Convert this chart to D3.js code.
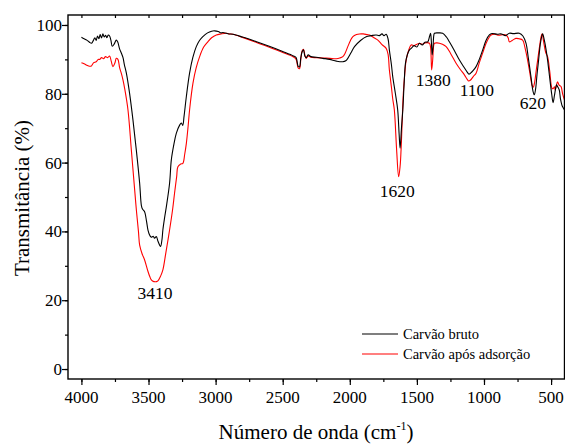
<!DOCTYPE html>
<html>
<head>
<meta charset="utf-8">
<script src="https://cdn.jsdelivr.net/npm/d3@7"></script>
</head>
<body style="margin:0">
<svg id="chart" width="565" height="444"></svg>
<script>
// Carvão bruto: [wavenumber (cm-1), transmittance (%)]
const brutoData = [
  [4000,96.4],[3980,96.0],[3960,95.6],[3940,95.0],[3925,94.7],[3910,95.6],[3900,96.3],[3890,95.5],
  [3880,96.8],[3870,96.0],[3860,97.2],[3850,96.2],[3840,97.4],[3830,96.5],[3820,97.0],[3810,96.3],
  [3800,97.1],[3790,96.8],[3780,95.5],[3770,93.8],[3755,94.5],[3740,95.6],[3730,95.1],[3715,93.0],
  [3702,91.8],[3690,90.5],[3680,88.5],[3665,86.0],[3641,80.1],[3616,72.4],[3591,63.7],[3566,54.0],
  [3553,47.5],[3545,46.5],[3530,45.8],[3515,43.0],[3504,40.4],[3490,38.8],[3479,38.3],[3465,38.6],
  [3455,38.0],[3442,38.5],[3430,37.2],[3417,36.0],[3410,35.6],[3400,37.5],[3393,40.4],[3380,44.0],
  [3367,47.2],[3343,54.0],[3330,60.8],[3310,65.5],[3293,68.5],[3268,70.9],[3255,71.5],[3245,70.8],
  [3235,73.5],[3218,79.2],[3194,86.0],[3170,90.5],[3144,93.7],[3120,95.5],[3095,96.6],[3060,97.7],
  [3030,98.2],[3008,98.3],[2980,98.1],[2960,97.7],[2946,97.8],[2900,97.4],[2871,97.3],[2800,96.5],
  [2700,95.2],[2600,93.8],[2500,92.3],[2420,91.0],[2400,90.5],[2385,88.0],[2375,87.8],[2365,90.5],
  [2355,92.2],[2345,92.8],[2335,91.0],[2325,90.5],[2310,91.3],[2290,90.8],[2250,90.6],[2200,90.3],
  [2150,90.0],[2100,89.5],[2052,89.3],[2030,89.6],[2015,90.3],[1990,92.0],[1965,93.7],[1920,95.5],
  [1878,96.6],[1840,96.9],[1804,97.1],[1780,96.9],[1760,97.4],[1745,96.9],[1729,97.3],[1715,96.0],
  [1705,92.7],[1690,88.5],[1680,85.0],[1660,80.0],[1643,75.3],[1632,68.0],[1625,64.2],[1615,70.0],
  [1605,75.3],[1595,83.0],[1585,88.9],[1570,91.5],[1556,92.7],[1540,93.3],[1520,94.0],[1500,93.6],
  [1481,94.7],[1460,94.2],[1440,95.0],[1419,95.1],[1405,96.8],[1398,97.6],[1392,95.0],[1386,91.3],
  [1380,93.5],[1374,97.0],[1369,97.6],[1340,97.7],[1308,97.6],[1280,96.5],[1258,95.1],[1220,92.5],
  [1183,89.8],[1150,87.8],[1125,86.3],[1112,85.7],[1100,86.0],[1080,86.8],[1059,87.9],[1035,90.0],
  [1010,92.7],[985,95.5],[960,97.1],[940,97.5],[900,97.3],[870,97.4],[840,96.9],[811,97.6],
  [780,97.5],[737,97.6],[710,96.8],[687,94.7],[670,90.5],[650,85.0],[635,80.8],[625,79.7],
  [615,81.5],[605,85.5],[593,89.8],[578,95.0],[563,97.4],[550,95.5],[538,93.0],[526,89.8],
  [510,84.5],[495,79.8],[485,77.4],[475,79.5],[465,81.8],[459,82.6],[450,82.0],[439,81.1],
  [430,78.5],[420,76.8],[414,76.2],[400,75.3]
];

// Carvão após adsorção
const adsorcaoData = [
  [4000,89.0],[3980,88.7],[3960,88.3],[3940,88.0],[3926,88.1],[3910,89.0],[3890,89.3],[3875,90.0],
  [3864,90.0],[3850,90.5],[3835,90.2],[3820,90.8],[3805,90.5],[3790,91.0],[3778,89.5],[3765,87.9],
  [3750,89.0],[3740,90.3],[3728,90.0],[3715,87.5],[3703,86.0],[3690,84.0],[3678,81.6],[3653,75.3],
  [3628,63.7],[3603,52.0],[3590,46.0],[3575,40.0],[3566,36.0],[3548,33.5],[3529,31.7],[3505,28.5],
  [3490,26.8],[3479,25.9],[3460,25.4],[3440,25.4],[3430,25.6],[3410,27.0],[3393,28.8],[3370,34.0],
  [3343,40.4],[3320,46.5],[3306,51.1],[3290,56.0],[3281,58.8],[3260,59.6],[3244,59.8],[3230,62.5],
  [3218,65.6],[3205,70.5],[3194,75.3],[3169,83.0],[3145,87.5],[3119,90.8],[3090,93.5],[3058,95.1],
  [3030,96.3],[2995,97.1],[2960,97.4],[2920,97.6],[2900,97.4],[2871,97.3],[2800,96.4],[2700,95.0],
  [2600,93.5],[2500,92.0],[2420,90.7],[2400,90.0],[2385,87.5],[2375,87.3],[2365,90.0],[2355,92.5],
  [2345,92.9],[2335,91.3],[2325,90.3],[2310,91.0],[2290,90.6],[2250,90.5],[2200,90.4],[2150,90.3],
  [2100,90.2],[2075,90.4],[2052,90.8],[2035,91.8],[2015,93.7],[1995,95.5],[1977,96.6],[1950,97.2],
  [1928,97.4],[1900,97.4],[1870,97.2],[1853,97.1],[1820,96.3],[1791,95.6],[1760,94.3],[1729,93.2],
  [1715,91.5],[1705,86.9],[1690,82.0],[1680,78.5],[1668,75.3],[1651,63.7],[1636,55.9],[1625,59.0],
  [1618,63.7],[1601,80.1],[1590,86.0],[1580,89.8],[1560,92.8],[1543,94.2],[1520,94.0],[1500,94.4],
  [1481,94.7],[1460,94.4],[1440,94.8],[1407,94.7],[1398,93.5],[1390,86.9],[1382,90.0],[1375,94.0],
  [1369,94.7],[1350,94.8],[1332,94.7],[1310,94.4],[1282,93.7],[1250,91.8],[1208,88.9],[1175,87.0],
  [1146,85.5],[1125,84.2],[1114,83.7],[1100,84.0],[1080,85.0],[1059,86.0],[1035,89.0],[1010,91.8],
  [985,94.6],[960,96.5],[947,97.1],[920,97.3],[890,97.0],[860,97.2],[836,97.1],[820,96.3],
  [811,95.1],[790,95.5],[762,96.1],[740,96.0],[712,95.6],[695,93.5],[675,89.8],[660,86.5],
  [650,84.0],[642,82.5],[633,81.9],[622,83.5],[610,87.0],[600,89.8],[585,94.0],[575,96.5],
  [567,97.4],[555,95.0],[540,92.0],[526,90.8],[510,86.5],[493,81.6],[485,81.5],[475,82.0],
  [469,81.1],[460,82.5],[452,83.5],[440,82.5],[426,82.1],[414,80.0],[400,78.2]
];

const seriesNames = ["Carvão bruto", "Carvão após adsorção"];
const seriesColors = ["#000000", "#ff0000"];

const xTicks = [4000, 3500, 3000, 2500, 2000, 1500, 1000, 500];
const yTicks = [0, 20, 40, 60, 80, 100];

// peak labels: text, wavenumber position, transmittance position
const peakLabels = [
  ["3410", 3452, 20.3],
  ["1620", 1646, 50.0],
  ["1380", 1378, 82.3],
  ["1100", 1053, 79.4],
  ["620", 636, 75.6]
];

const svg = d3.select("#chart")
const margin = {left: 68, top: 15, right: 0.5, bottom: 65}
const W = 565, H = 444

const x = d3.scaleLinear().domain([4100, 400]).range([margin.left, W - margin.right])
const y = d3.scaleLinear().domain([-2.9, 102.9]).range([H - margin.bottom, margin.top])

const minorX = d3.range(4000, 399, -250)
const minorY = d3.range(0, 101, 10)

// plain text helper, all chart text goes through here
function label(parent, str, px, py, size, anchor) {
  return parent.append("text")
    .attr("x", px).attr("y", py)
    .attr("font-family", "Liberation Serif")
    .attr("font-size", size)
    .attr("text-anchor", anchor || "start")
    .text(str)
}

// tick marks only, labels are drawn by hand below so no axis font attributes get in the way
function ticksOnly(axis, tx, ty) {
  svg.append("g")
    .attr("transform", `translate(${tx},${ty})`)
    .call(axis.tickFormat(""))
    .call(g => g.select(".domain").remove())
    .call(g => g.selectAll("text").remove())
}
ticksOnly(d3.axisBottom(x).tickValues(minorX).tickSize(3), 0, H - margin.bottom)
ticksOnly(d3.axisBottom(x).tickValues(xTicks).tickSize(6), 0, H - margin.bottom)
ticksOnly(d3.axisBottom(x).tickValues(minorX).tickSize(3), 0, margin.top)
ticksOnly(d3.axisLeft(y).tickValues(minorY).tickSize(3), margin.left, 0)
ticksOnly(d3.axisLeft(y).tickValues(yTicks).tickSize(6), margin.left, 0)
svg.selectAll(".tick line").attr("stroke", "#000").attr("stroke-width", 1.2)

const labels = svg.append("g")
xTicks.forEach(v => label(labels, String(v), x(v), 403, 17, "middle"))
yTicks.forEach(v => label(labels, String(v), 62, y(v) + 6, 17, "end"))

// series
const line = d3.line()
  .x(d => x(d[0]))
  .y(d => y(d[1]))
  .curve(d3.curveCatmullRom.alpha(0.5))

const allSeries = [brutoData, adsorcaoData]
// red first so black stays visible on top where they overlap
svg.append("g").selectAll("path")
  .data([1, 0])
  .enter()
  .append("path")
  .attr("d", i => line(allSeries[i]))
  .attr("fill", "none")
  .attr("stroke", i => seriesColors[i])
  .attr("stroke-width", 1.1)

// frame
svg.append("rect")
  .attr("x", margin.left)
  .attr("y", margin.top)
  .attr("width", W - margin.right - margin.left)
  .attr("height", H - margin.bottom - margin.top)
  .attr("fill", "none")
  .attr("stroke", "#000")
  .attr("stroke-width", 1.4)

// peak labels
peakLabels.forEach(d => label(labels, d[0], x(d[1]), y(d[2]), 17.5, "middle"))

// legend
seriesNames.forEach((name, i) => {
  let ly = 334 + i * 20
  svg.append("line")
    .attr("x1", 362).attr("x2", 398)
    .attr("y1", ly).attr("y2", ly)
    .attr("stroke", seriesColors[i])
    .attr("stroke-width", 1.1)
  label(labels, name, 403, ly + 5, 14.5)
})

// axis titles
const xt = label(svg, "", 316, 439, 21, "middle")
xt.append("tspan").text("Número de onda (cm")
xt.append("tspan").attr("dy", -9).attr("font-size", 12).text("-1")
xt.append("tspan").attr("dy", 9).text(")")

label(svg, "Transmitância (%)", 0, 0, 21, "middle")
  .attr("transform", "translate(29,198) rotate(-90)")
</script>
</body>
</html>
